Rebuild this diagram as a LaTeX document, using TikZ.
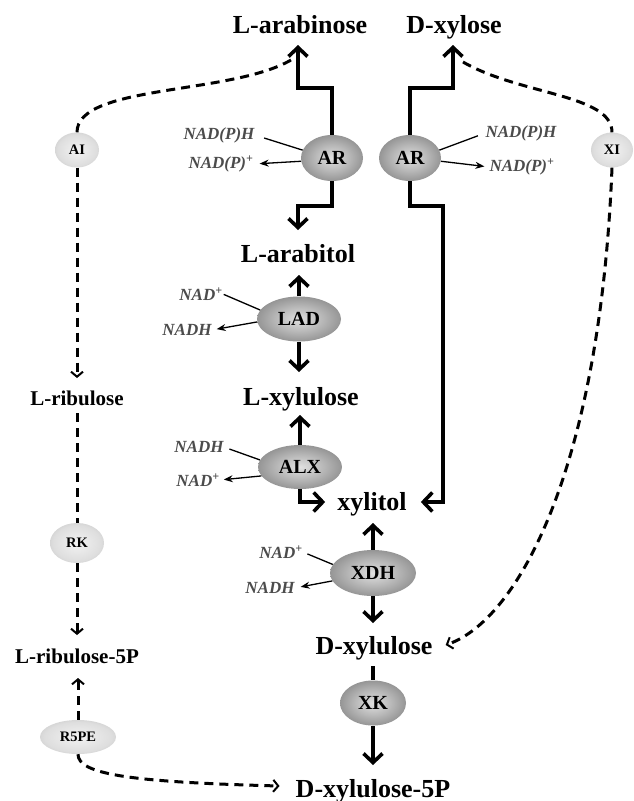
\documentclass[tikz,border=0pt]{standalone}
\usepackage{fontspec}
\setmainfont{Liberation Serif}
\usetikzlibrary{arrows.meta,shapes.geometric,calc}
\pgfdeclareradialshading{enzsh}{\pgfpoint{0bp}{0bp}}{color(0bp)=(black!12); color(14bp)=(black!28); color(50bp)=(black!72)}
\pgfdeclareradialshading{isosh}{\pgfpoint{0bp}{0bp}}{color(0bp)=(black!5); color(22bp)=(black!13); color(50bp)=(black!38)}
\tikzset{
  sugar/.style={anchor=base, inner sep=0pt, font=\fontsize{26}{28}\selectfont\bfseries},
  sugarsm/.style={anchor=base, inner sep=0pt, font=\fontsize{21}{24}\selectfont\bfseries},
  cof/.style={inner sep=0pt, text=black!70, font=\fontsize{17}{19}\selectfont\bfseries\itshape},
  enz/.style={ellipse, inner sep=0pt, shade, shading=enzsh, font=\fontsize{20}{22}\selectfont\bfseries},
  iso/.style={ellipse, inner sep=0pt, shade, shading=isosh, font=\fontsize{14.5}{16}\selectfont\bfseries},
  bigline/.style={line width=3.8pt, line join=miter},
  bigarr/.style={bigline, -{Straight Barb[length=9pt,width=19pt,line width=3.6pt]}},
  dline/.style={line width=3pt, dash pattern=on 9pt off 6pt},
  darr/.style={dline, -{Straight Barb[length=5pt,width=12pt,line width=2pt]}},
  thinl/.style={line width=1.3pt},
  thinarr/.style={thinl, -{Stealth[length=9pt,width=7pt]}}
}
\begin{document}
\begin{tikzpicture}[x=1pt,y=-1pt]
\fill[white] (0,0) rectangle (634,801);
\useasboundingbox (0,0) rectangle (634,801);

% sugars
\node[sugar] (larab) at (300,33) {L-arabinose};
\node[sugar] (dxyl) at (454,33) {D-xylose};
\node[sugar] (larabitol) at (298,262) {L-arabitol};
\node[sugar] (lxylulose) at (301,405) {L-xylulose};
\node[sugar] (xylitol) at (372,510) {xylitol};
\node[sugar] (dxylulose) at (374,654) {D-xylulose};
\node[sugar] (dx5p) at (373,797) {D-xylulose-5P};
\node[sugarsm] (lribulose) at (77,405) {L-ribulose};
\node[sugarsm] (lr5p) at (77,663) {L-ribulose-5P};

% enzymes
\node[enz, minimum width=62pt, minimum height=46pt] (arL) at (332,158) {AR};
\node[enz, minimum width=62pt, minimum height=46pt] (arR) at (410,158) {AR};
\node[enz, minimum width=84pt, minimum height=45pt] (lad) at (299,319) {LAD};
\node[enz, minimum width=84pt, minimum height=44pt] (alx) at (300,467) {ALX};
\node[enz, minimum width=86pt, minimum height=46pt] (xdh) at (373,573) {XDH};
\node[enz, minimum width=66pt, minimum height=45pt] (xk) at (373,703) {XK};
\node[iso, minimum width=44pt, minimum height=35pt] (ai) at (77,150) {AI};
\node[iso, minimum width=42pt, minimum height=35pt] (xi) at (612,150) {XI};
\node[iso, minimum width=54pt, minimum height=40pt] (rk) at (77,543) {RK};
\node[iso, minimum width=76pt, minimum height=34pt] (r5pe) at (78,737) {R5PE};

% cofactors
\node[cof] (nadphL) at (219,135) {NAD(P)H};
\node[cof] (nadpL) at (221,164) {NAD(P)\textsuperscript{+}};
\node[cof] (nadphR) at (521,133) {NAD(P)H};
\node[cof] (nadpR) at (522,167) {NAD(P)\textsuperscript{+}};
\node[cof] (nadLAD) at (201,294) {NAD\textsuperscript{+}};
\node[cof] (nadhLAD) at (187,330) {NADH};
\node[cof] (nadhALX) at (199,447) {NADH};
\node[cof] (nadALX) at (198,480) {NAD\textsuperscript{+}};
\node[cof] (nadXDH) at (281,552) {NAD\textsuperscript{+}};
\node[cof] (nadhXDH) at (270,588) {NADH};

% cofactor lines
\draw[thinl, shorten <=10pt] (nadphL.east) -- (arL.165);
\draw[thinarr, shorten >=6pt] (arL.186) -- (nadpL.east);
\draw[thinl, shorten <=8pt] (nadphR.west) -- (arR.15);
\draw[thinarr, shorten >=5pt] (arR.354) -- (nadpR.west);
\draw[thinl, shorten <=1pt] (nadLAD.east) -- (lad.167);
\draw[thinarr, shorten >=5pt] (lad.184) -- (nadhLAD.east);
\draw[thinl, shorten <=6pt] (nadhALX.east) -- (alx.170);
\draw[thinarr, shorten >=4pt] (alx.193) -- (nadALX.east);
\draw[thinl, shorten <=5pt] (nadXDH.east) -- (xdh.168);
\draw[thinarr, shorten >=6pt] (xdh.191) -- (nadhXDH.east);

% main solid connectors
\draw[bigarr] (arL.north) -- ++(0,-47) -| ([xshift=-2pt,yshift=-12pt]larab.base);
\draw[bigarr] (arL.south) -- ++(0,25) -| ([yshift=32pt]larabitol.base);
\draw[bigarr] (arR.north) -- ++(0,-47) -| ([xshift=-1pt,yshift=-12pt]dxyl.base);
\draw[bigarr] (arR.south) -- ++(0,25) -- ++(33,0) |- ([xshift=14pt,yshift=8pt]xylitol.base east);
\draw[bigarr, shorten >=13pt] (lad.north) -- (lad.north |- larabitol.base);
\draw[bigarr, shorten >=33pt] (lad.south) -- (lad.south |- lxylulose.base);
\draw[bigarr, shorten >=10pt] (alx.north) -- (alx.north |- lxylulose.base);
\draw[bigarr] (alx.south) |- ([xshift=-12pt,yshift=8pt]xylitol.base west);
\draw[bigarr, shorten >=13pt] (xdh.north) -- (xdh.north |- xylitol.base);
\draw[bigarr, shorten >=31pt] (xdh.south) -- (xdh.south |- dxylulose.base);
\draw[bigline, shorten <=12pt] (xk.north |- dxylulose.base) -- (xk.north);
\draw[bigarr, shorten >=32pt] (xk.south) -- (xk.south |- dx5p.base);

% dashed connectors
\draw[dline] (ai.north) .. controls +(0,-48) and +(-60,35) .. ([xshift=-9pt,yshift=-27pt]larab.base);
\draw[darr, shorten >=27pt] (ai.south) -- (ai.south |- lribulose.base);
\draw[dline, shorten <=8pt] (rk.north |- lribulose.base) -- (rk.north);
\draw[darr, shorten >=28pt] (rk.south) -- (rk.south |- lr5p.base);
\draw[darr, shorten >=15pt] (r5pe.north) -- (r5pe.north |- lr5p.base);
\draw[darr] (r5pe.south) .. controls +(0,20) and +(-150,-4) .. ([xshift=-16pt,yshift=11pt]dx5p.base west);
\draw[dline] ([xshift=9pt,yshift=-29pt]dxyl.base) .. controls +(57,33) and +(0,-38) .. (xi.north);
\draw[darr] (xi.south) .. controls +(-12,302) and +(72,-25) .. ([xshift=13pt,yshift=9pt]dxylulose.base east);
\end{tikzpicture}
\end{document}
